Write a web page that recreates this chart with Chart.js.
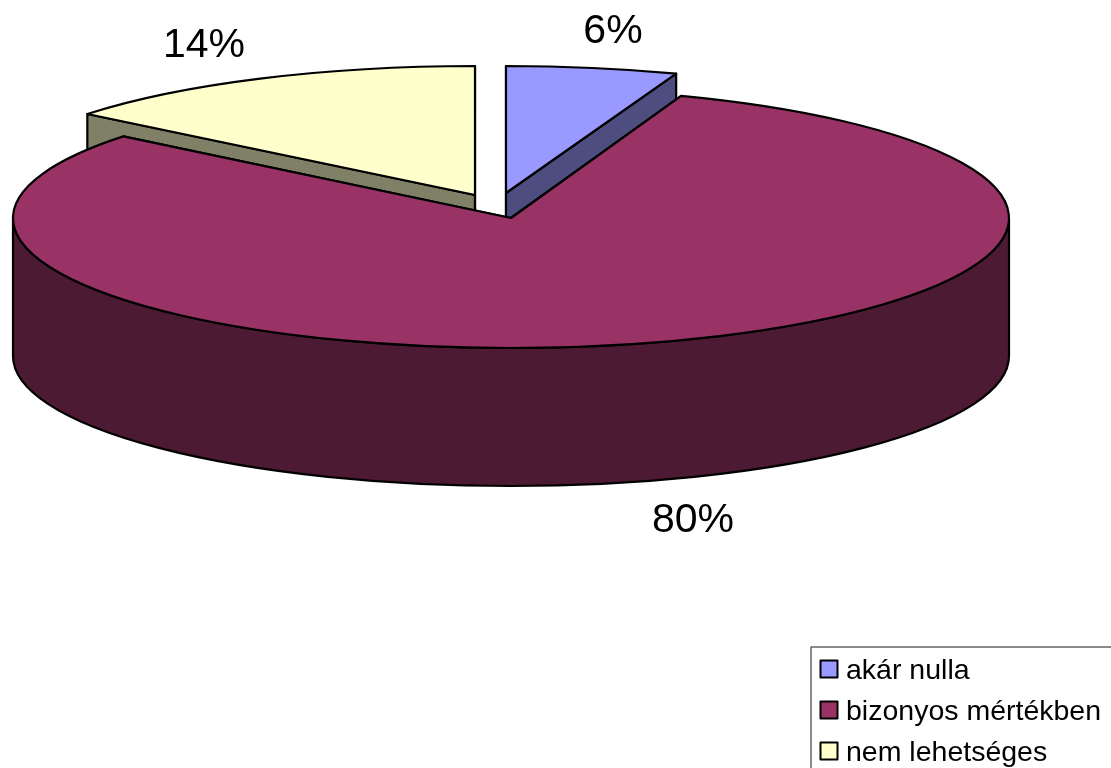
<!DOCTYPE html>
<html><head><meta charset="utf-8">
<style>html,body{margin:0;padding:0;background:#fff;overflow:hidden}canvas{display:block}</style>
<script src="https://cdn.jsdelivr.net/npm/chart.js@4/dist/chart.umd.min.js"></script>
</head><body><canvas id="c" width="1111" height="768"></canvas>
<script>
const categories = ["akár nulla", "bizonyos mértékben", "nem lehetséges"];
const shares = [5.55, 80.25, 14.2];
const topColors = ["#9999FF", "#993366", "#FFFFCC"];
const sideColors = ["#4D4D80", "#4D1A33", "#808066"];
// presentation geometry of the tilted, exploded pie
const ellipses = [
  {cx:506, cy:193, rx:498, ry:127},
  {cx:511, cy:218, rx:498, ry:130},
  {cx:475, cy:195, rx:498, ry:129}
];
const depth = 138;
const drawOrder = [2, 0, 1];
const labelPositions = [[613, 32], [693, 521], [204, 46]];
const labelFont = '41px "Liberation Sans"';
const legendFont = '28.5px "Liberation Sans"';
const legendFrame = {x:811, y:647};
const legendBaselines = [679, 720, 761];

function withSlice(ctx, arc, e, dy, fn){
  const k = arc.outerRadius;
  ctx.save();
  ctx.translate(e.cx, e.cy + dy);
  ctx.scale(e.rx / k, e.ry / k);
  ctx.translate(-arc.x, -arc.y);
  fn();
  ctx.restore();
}
function paint(ctx, fill){
  ctx.fillStyle = fill;
  ctx.fill();
  ctx.lineWidth = 2.2;
  ctx.lineJoin = 'round';
  ctx.strokeStyle = '#000';
  ctx.stroke();
}
const tiltedPie = {
  id: 'tiltedPie',
  beforeDatasetDraw(chart){
    const ctx = chart.ctx;
    const arcs = chart.getDatasetMeta(0).data;
    drawOrder.forEach(i => {
      const p = arcs[i].getProps(['x','y','startAngle','endAngle','outerRadius'], true);
      const e = ellipses[i];
      const pt = a => [e.cx + e.rx*Math.cos(a), e.cy + e.ry*Math.sin(a)];
      // radial side faces
      [p.startAngle, p.endAngle].forEach(a => {
        const q = pt(a);
        ctx.beginPath();
        ctx.moveTo(e.cx, e.cy); ctx.lineTo(q[0], q[1]);
        ctx.lineTo(q[0], q[1]+depth); ctx.lineTo(e.cx, e.cy+depth);
        ctx.closePath();
        paint(ctx, sideColors[i]);
      });
      // outer curved side face: only the part that faces the viewer
      const a1 = Math.max(p.startAngle, 0), a2 = Math.min(p.endAngle, Math.PI);
      if (a1 < a2) {
        ctx.beginPath();
        withSlice(ctx, p, e, 0, () => ctx.arc(p.x, p.y, p.outerRadius, a1, a2));
        withSlice(ctx, p, e, depth, () => ctx.arc(p.x, p.y, p.outerRadius, a2, a1, true));
        ctx.closePath();
        paint(ctx, sideColors[i]);
      }
      // top face
      ctx.beginPath();
      withSlice(ctx, p, e, 0, () => {
        ctx.moveTo(p.x, p.y);
        ctx.arc(p.x, p.y, p.outerRadius, p.startAngle, p.endAngle);
        ctx.closePath();
      });
      paint(ctx, topColors[i]);
    });
    return false;
  },
  afterDatasetsDraw(chart){
    const ctx = chart.ctx;
    const values = chart.data.datasets[0].data;
    ctx.save();
    ctx.fillStyle = '#000';
    ctx.font = labelFont;
    ctx.textAlign = 'center';
    ctx.textBaseline = 'middle';
    values.forEach((v, i) => ctx.fillText(Math.round(v) + '%', labelPositions[i][0], labelPositions[i][1]));
    // legend
    ctx.strokeStyle = '#666';
    ctx.lineWidth = 1.5;
    ctx.strokeRect(legendFrame.x, legendFrame.y, 500, 300);
    ctx.font = legendFont;
    ctx.textAlign = 'left';
    ctx.textBaseline = 'alphabetic';
    chart.data.labels.forEach((t, i) => {
      const y = legendBaselines[i];
      ctx.fillStyle = topColors[i];
      ctx.fillRect(820.5, y-18.5, 17, 17);
      ctx.strokeStyle = '#000';
      ctx.lineWidth = 2;
      ctx.strokeRect(820.5, y-18.5, 17, 17);
      ctx.fillStyle = '#000';
      ctx.fillText(t, 846, y);
    });
    ctx.restore();
  }
};
new Chart(document.getElementById('c'), {
  type: 'pie',
  data: { labels: categories, datasets: [{ data: shares, backgroundColor: topColors, borderWidth: 0 }] },
  options: {
    responsive: false,
    animation: false,
    plugins: { legend: {display:false}, tooltip: {enabled:false} }
  },
  plugins: [tiltedPie]
});
</script></body></html>
